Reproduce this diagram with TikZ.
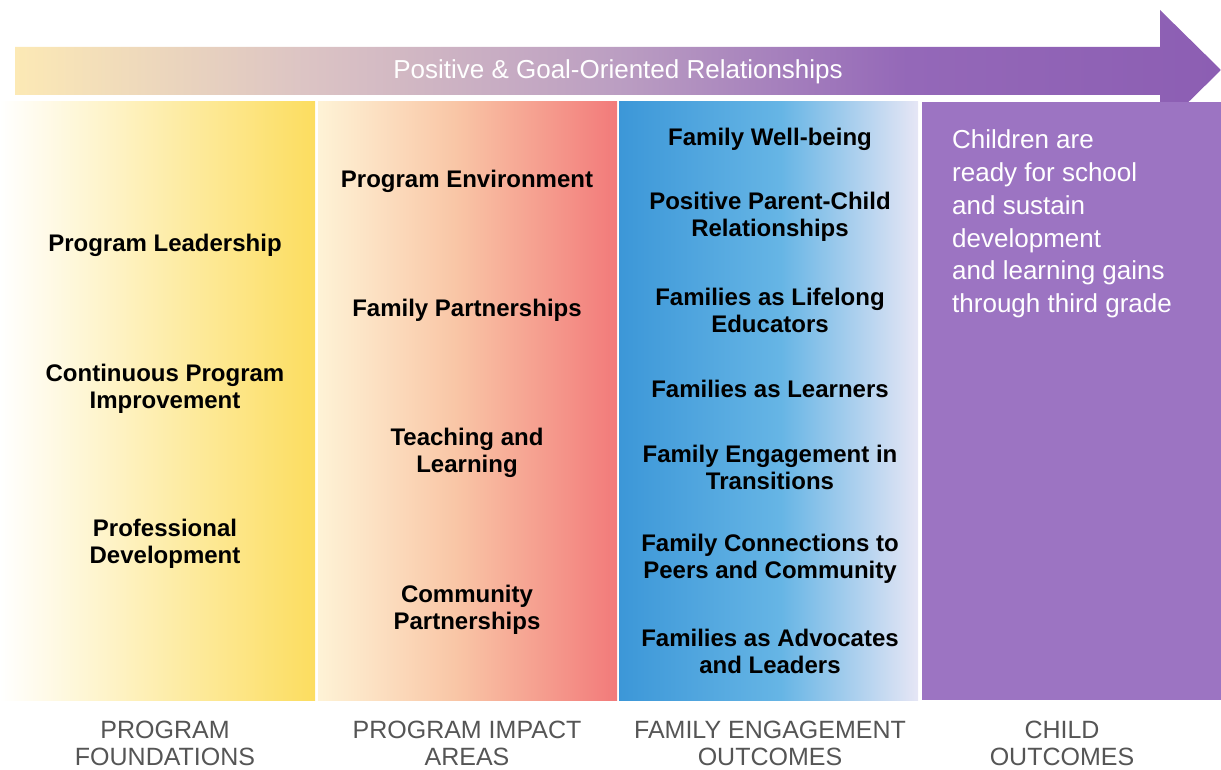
\documentclass[tikz,border=0pt]{standalone}
\usepackage{fontspec}
\setmainfont{Liberation Sans}

\definecolor{arrowA}{HTML}{FCE9B5}
\definecolor{arrowB}{HTML}{DCC4C4}
\definecolor{arrowC}{HTML}{BB9EC2}
\definecolor{arrowD}{HTML}{9468B8}
\definecolor{arrowE}{HTML}{8C5EB3}
\definecolor{leadyellow}{HTML}{FCDD5F}
\definecolor{impactA}{HTML}{FEF3D6}
\definecolor{impactB}{HTML}{F9C6A6}
\definecolor{impactC}{HTML}{F27A7A}
\definecolor{familyA}{HTML}{3C97D8}
\definecolor{familyB}{HTML}{66B5E5}
\definecolor{familyC}{HTML}{E6E6F5}
\definecolor{childpurple}{HTML}{9C74C2}
\definecolor{labelgray}{HTML}{555555}

% shading spans 25bp..75bp of the box
\pgfdeclarehorizontalshading{arrowshade}{100bp}{color(0bp)=(arrowA); color(25bp)=(arrowA); color(37bp)=(arrowB); color(50bp)=(arrowC); color(62bp)=(arrowD); color(75bp)=(arrowE); color(100bp)=(arrowE)}
\pgfdeclarehorizontalshading{impactshade}{100bp}{color(0bp)=(impactA); color(25bp)=(impactA); color(48bp)=(impactB); color(75bp)=(impactC); color(100bp)=(impactC)}
\pgfdeclarehorizontalshading{familyshade}{100bp}{color(0bp)=(familyA); color(25bp)=(familyA); color(52bp)=(familyB); color(75bp)=(familyC); color(100bp)=(familyC)}

\begin{document}
\begin{tikzpicture}[x=1pt,y=-1pt,
  item/.style={font=\fontsize{24}{27}\selectfont\bfseries, align=center, inner sep=0pt},
  gain/.style={font=\fontsize{26}{32.7}\selectfont, text=white, align=left, inner sep=0pt, anchor=west},
  colname/.style={font=\fontsize{25}{27}\selectfont, text=labelgray, align=center, inner sep=0pt}]
\useasboundingbox (0,0) rectangle (1221,770);

% arrow across the top
\shade[shading=arrowshade] (15,47) -- (1160,47) -- (1160,10) -- (1221,70) -- (1160,130) -- (1160,95) -- (15,95) -- cycle;
\node[font=\fontsize{26}{28}\selectfont, text=white, inner sep=0pt] (rel) at (618,72) {Positive \& Goal-Oriented Relationships};

% four columns
\shade[left color=white, right color=leadyellow] (0,102) rectangle (315,700);
\shade[shading=impactshade] (318,102) rectangle (617,700);
\shade[shading=familyshade] (619,102) rectangle (918,700);
\fill[childpurple] (922,102) rectangle (1221,700);

% program foundations
\node[item] (lead) at (165,245) {Program Leadership};
\node[item] (cont) at (165,389) {Continuous Program\\Improvement};
\node[item] (prof) at (165,544) {Professional\\Development};

% program impact areas
\node[item] (env) at (467,181) {Program Environment};
\node[item] (fpart) at (467,310) {Family Partnerships};
\node[item] (teach) at (467,453) {Teaching and\\Learning};
\node[item] (comm) at (467,610) {Community\\Partnerships};

% family engagement outcomes
\node[item] (well) at (770,139) {Family Well-being};
\node[item] (pcr) at (770,217) {Positive Parent-Child\\Relationships};
\node[item] (life) at (770,310) {Families as Lifelong\\Educators};
\node[item] (learn) at (770,389) {Families as Learners};
\node[item] (trans) at (770,467) {Family Engagement in\\Transitions};
\node[item] (peers) at (770,559) {Family Connections to\\Peers and Community};
\node[item] (adv) at (770,651) {Families as Advocates\\and Leaders};

% child outcomes
\node[gain] (ready) at (952,224) {Children are\\ready for school\\and sustain\\development\\and learning gains\\through third grade};

% column names
\node[colname] (pf) at (165,743) {PROGRAM\\FOUNDATIONS};
\node[colname] (pia) at (467,743) {PROGRAM IMPACT\\AREAS};
\node[colname] (feo) at (770,743) {FAMILY ENGAGEMENT\\OUTCOMES};
\node[colname] (co) at (1062,743) {CHILD\\OUTCOMES};
\end{tikzpicture}
\end{document}
